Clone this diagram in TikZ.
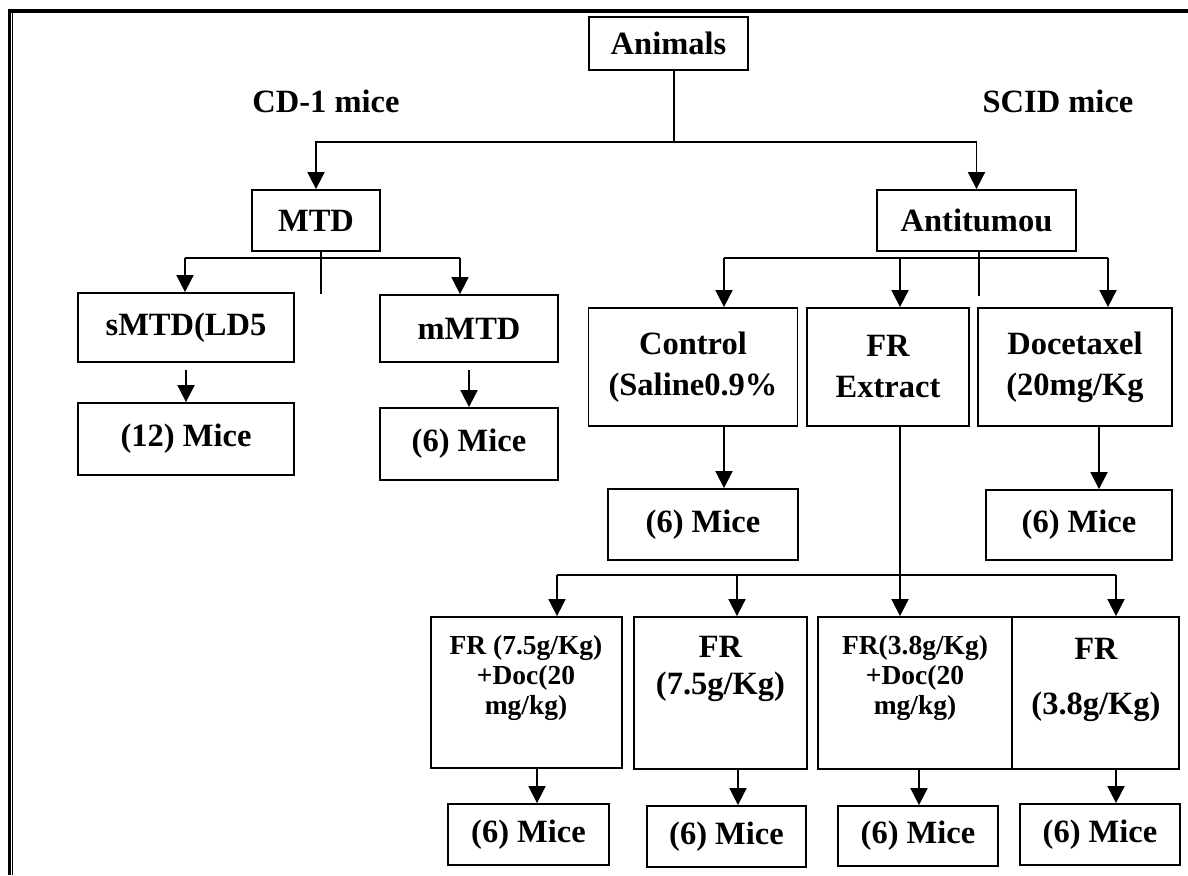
\documentclass[tikz,border=0pt]{standalone}
\usepackage{fontspec}
\setmainfont{Liberation Serif}
\usetikzlibrary{arrows.meta}

\begin{document}
\begin{tikzpicture}[x=1pt,y=-1pt,line width=1.8pt,
  box/.style={draw,inner sep=0pt,align=center,font=\fontsize{32.5}{41}\selectfont\bfseries},
  txt/.style={inner sep=0pt,align=center,font=\fontsize{32.5}{41}\selectfont\bfseries},
  sml/.style={inner sep=0pt,align=center,font=\fontsize{27.5}{30}\selectfont\bfseries},
  arr/.style={-{Triangle[length=17pt,width=17pt]}}]
\useasboundingbox (0,0) rectangle (1188,875);
% frame
\draw[line width=4pt] (8,11) -- (1188,11);
\draw[line width=3pt] (9.5,9) -- (9.5,875);
\draw[line width=1.2pt] (12.5,13) -- (12.5,875);
% top levels
\node[box,minimum width=159pt,minimum height=53pt] (animals) at (668.5,43.5) {Animals};
\node[txt] (cdone) at (326,101) {CD-1 mice};
\node[txt] (scid) at (1058,101) {SCID mice};
\node[box,minimum width=128pt,minimum height=61pt] (mtd) at (316,220.5) {MTD};
\node[box,minimum width=199pt,minimum height=61pt] (anti) at (976.5,220.5) {Antitumou};
% CD-1 side
\node[box,minimum width=216pt,minimum height=69pt] (smtd) at (186,327.5) {sMTD(LD5};
\node[box,minimum width=178pt,minimum height=67pt] (mmtd) at (469,328.5) {mMTD};
\node[box,minimum width=216pt,minimum height=72pt] (smice) at (186,439) {(12) Mice};
\node[box,minimum width=178pt,minimum height=72pt] (mmice) at (469,444) {(6) Mice};
% SCID side
\node[box,minimum width=209pt,minimum height=118pt] (ctrl) at (693,367) {Control\\(Saline0.9\%};
\node[box,minimum width=162pt,minimum height=118pt] (frx) at (888,367) {FR\\Extract};
\node[box,minimum width=194pt,minimum height=118pt] (doce) at (1075,367) {Docetaxel\\(20mg/Kg};
\node[box,minimum width=190pt,minimum height=71pt] (cmice) at (703,524.5) {(6) Mice};
\node[box,minimum width=186pt,minimum height=70pt] (dmice) at (1079,525) {(6) Mice};
% FR groups
\node[box,minimum width=191pt,minimum height=151pt] (bone) at (526.5,692.5) {};
\node[box,minimum width=173pt,minimum height=152pt] (btwo) at (720.5,693) {};
\node[box,minimum width=194pt,minimum height=152pt] (bthree) at (915,693) {};
\node[box,minimum width=167pt,minimum height=152pt] (bfour) at (1095.5,693) {};
\node[sml] (tone) at (526,678) {FR (7.5g/Kg)\\+Doc(20\\mg/kg)};
\node[txt,font=\fontsize{32.5}{37}\selectfont\bfseries] (ttwo) at (720.5,669) {FR\\(7.5g/Kg)};
\node[sml] (tthree) at (915,678) {FR(3.8g/Kg)\\+Doc(20\\mg/kg)};
\node[txt,font=\fontsize{32.5}{55}\selectfont\bfseries] (tfour) at (1096,680) {FR\\(3.8g/Kg)};
\node[box,minimum width=161pt,minimum height=61pt] (mone) at (528.5,834.5) {(6) Mice};
\node[box,minimum width=159pt,minimum height=61pt] (mtwo) at (726.5,836.5) {(6) Mice};
\node[box,minimum width=160pt,minimum height=60pt] (mthree) at (918,836) {(6) Mice};
\node[box,minimum width=160pt,minimum height=61pt] (mfour) at (1100,834.5) {(6) Mice};
% junctions
\coordinate (ja) at (674,142);
\coordinate (jm) at (321,258);
\coordinate (ms) at (185,258);
\coordinate (mm) at (460,258);
\coordinate (jt) at (979,258);
\coordinate (ac) at (724,258);
\coordinate (af) at (900,258);
\coordinate (ad) at (1108,258);
\coordinate (dx) at (1099,490);
\coordinate (bl) at (557,575);
\coordinate (bm) at (737,575);
\coordinate (br) at (1116,575);
\coordinate (xone) at (537,804);
\coordinate (xtwo) at (738,804);
\coordinate (xthree) at (919,804);
% connectors
\draw (ja |- animals.south) -- (ja);
\draw[arr] (ja) -| (mtd);
\draw[arr] (ja) -| (anti);
\draw (jm |- mtd.south) -- ++(0,42);
\draw (ms) -- (mm);
\draw[arr] (ms) -- (ms |- smtd.north);
\draw[arr] (mm) -- (mm |- mmtd.north);
\draw[arr] ([yshift=-7pt]smtd.south) -- (smice);
\draw[arr] ([yshift=-7pt]mmtd.south) -- (mmice);
\draw (jt |- anti.south) -- ++(0,44);
\draw (ac) -- (ad);
\draw[arr] (ac) -- (ac |- ctrl.north);
\draw[arr] (af) -- (af |- frx.north);
\draw[arr] (ad) -- (ad |- doce.north);
\draw[arr] (ctrl.south -| ac) -- (ac |- cmice.north);
\draw[arr] (dx |- doce.south) -- (dx |- dmice.north);
\draw[arr] (frx.south -| af) -- (af |- bthree.north);
\draw (bl) -- (br);
\draw[arr] (bl) -- (bl |- bone.north);
\draw[arr] (bm) -- (bm |- btwo.north);
\draw[arr] (br) -- (br |- bfour.north);
\draw[arr] (xone |- bone.south) -- (xone |- mone.north);
\draw[arr] (xtwo |- btwo.south) -- (xtwo |- mtwo.north);
\draw[arr] (xthree |- bthree.south) -- (xthree |- mthree.north);
\draw[arr] (br |- bfour.south) -- (br |- mfour.north);
\end{tikzpicture}
\end{document}
